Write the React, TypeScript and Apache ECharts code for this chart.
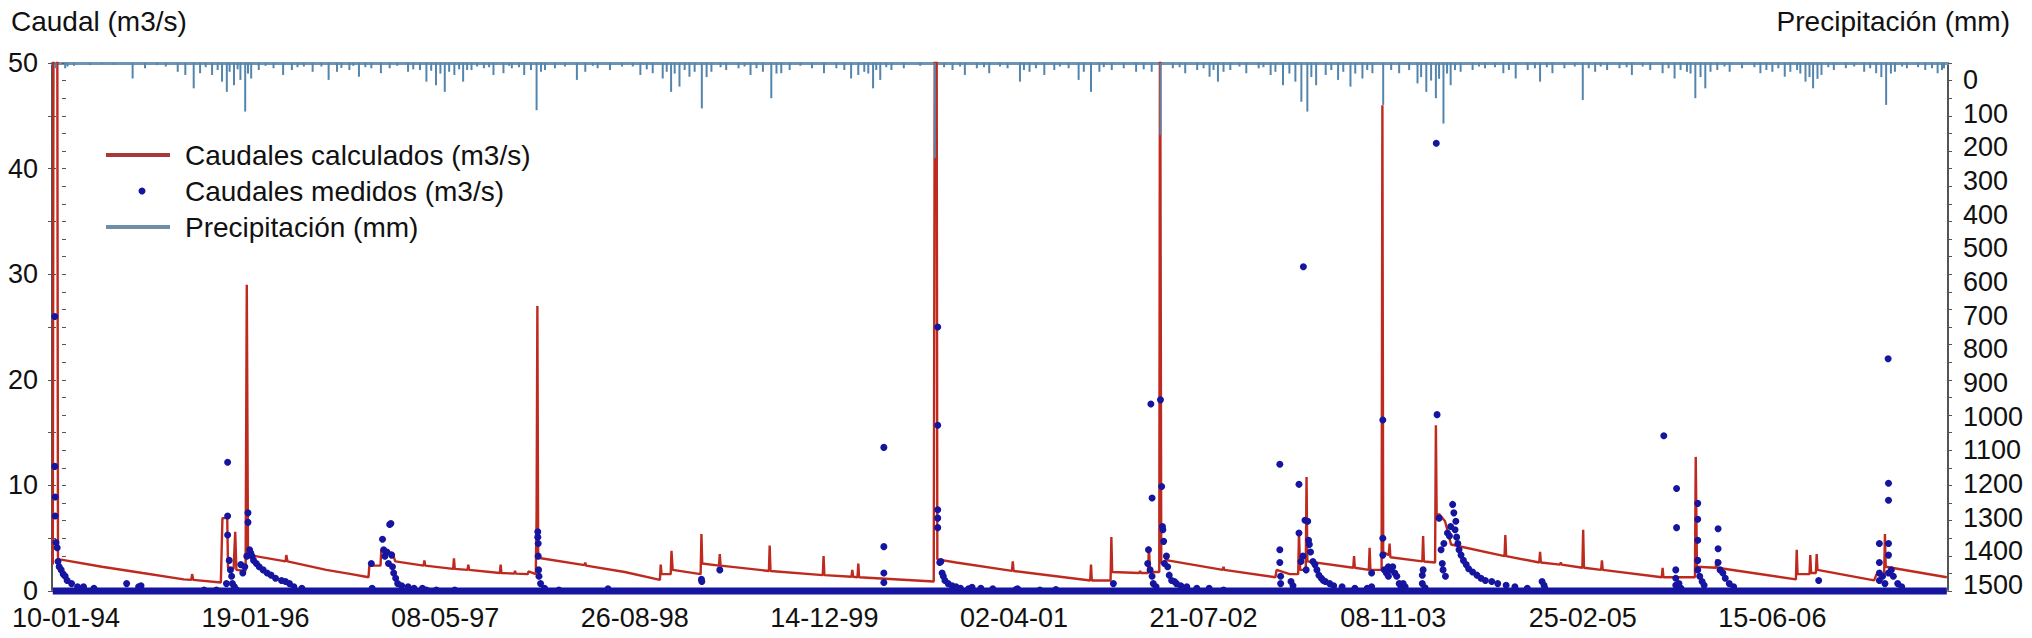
import React, { useEffect, useRef } from "react";
import * as echarts from "echarts";

const FONT = "'Liberation Sans', Arial, Helvetica, sans-serif";

// x axis: day index (category-like, evenly spaced labels every 475 days)
const xLabels = ["10-01-94", "19-01-96", "08-05-97", "26-08-98", "14-12-99", "02-04-01", "21-07-02", "08-11-03", "25-02-05", "15-06-06"];
const LABEL_STEP = 475;
const X_MIN = -35;
const X_MAX = 4715;

const leftTicks = [0, 10, 20, 30, 40, 50];
const rightTickLabels = [0, 100, 200, 300, 400, 500, 600, 700, 800, 900, 1000, 1100, 1200, 1300, 1400, 1500];

// Caudales calculados (m3/s): [day, value]
const calculatedFlow: [number, number][] = [
  [-33, 2.5], [-31, 60], [-22, 60], [-20, 3.1], [-16, 3.0], [90, 2.3], [192, 1.7], [295, 1.1], [314, 1.05], [316, 1.6], [319, 1.05], [388, 0.8],
  [392, 6.9], [404, 6.9], [406, 2.2], [420, 2.1], [424, 5.6], [427, 2.0], [450, 1.9], [453, 29], [456, 3.5],
  [460, 3.4], [550, 2.8], [552, 3.4], [555, 2.8], [652, 2.0], [715, 1.6], [758, 1.3],
  [760, 2.4], [788, 2.4], [790, 3.9], [818, 3.6], [825, 2.8], [896, 2.4], [898, 2.9], [900, 2.4], [970, 2.1], [972, 3.1], [974, 2.1],
  [1006, 2.0], [1008, 2.5], [1010, 2.0], [1087, 1.7], [1089, 2.5], [1091, 1.7], [1123, 1.65], [1125, 1.9], [1127, 1.65], [1157, 1.6], [1159, 1.85], [1177, 1.6],
  [1179, 7.0], [1181, 27], [1183, 3.3], [1190, 3.1], [1299, 2.45], [1301, 2.7], [1303, 2.4], [1400, 1.8], [1488, 1.05], [1490, 2.5], [1492, 1.6],
  [1515, 1.6], [1517, 3.8], [1520, 2.0], [1590, 1.6], [1592, 5.4], [1594, 2.6], [1636, 2.4], [1638, 3.5], [1640, 2.4],
  [1761, 1.9], [1763, 4.3], [1765, 1.9], [1896, 1.5], [1898, 3.3], [1900, 1.5], [1968, 1.35], [1970, 2.0], [1972, 1.35],
  [1983, 1.3], [1985, 2.6], [1987, 1.3], [2174, 0.9],
  [2177, 60], [2181, 60], [2183, 3.0], [2230, 2.7], [2370, 1.9], [2372, 2.8], [2374, 1.9], [2566, 1.0], [2568, 2.5], [2570, 1.0],
  [2617, 1.0], [2619, 5.1], [2621, 1.8], [2689, 1.7], [2691, 1.9], [2693, 1.7], [2711, 1.7], [2713, 4.2], [2716, 1.8], [2739, 1.8],
  [2741, 60], [2744, 2.6], [2755, 2.9], [2757, 3.4], [2760, 2.9], [2898, 2.0], [2900, 2.3], [2902, 2.0], [3030, 1.3],
  [3033, 2.0], [3066, 1.6], [3087, 1.6], [3089, 5.5], [3092, 2.0], [3106, 2.0], [3108, 10.8], [3110, 2.8],
  [3225, 2.2], [3227, 3.3], [3229, 2.2], [3264, 2.0], [3266, 4.1], [3268, 2.0], [3296, 2.0], [3298, 46], [3300, 3.7],
  [3314, 3.4], [3316, 4.5], [3318, 3.2], [3398, 2.8], [3400, 5.2], [3402, 2.8], [3430, 2.7], [3432, 15.7], [3434, 6.9],
  [3440, 7.3], [3455, 6.6], [3470, 4.4], [3604, 3.3], [3606, 5.3], [3608, 3.3], [3691, 2.7], [3693, 3.7], [3695, 2.7],
  [3743, 2.5], [3745, 2.7], [3747, 2.5], [3799, 2.2], [3801, 5.8], [3803, 2.2], [3846, 2.0], [3848, 2.9], [3850, 2.0],
  [3998, 1.3], [4000, 2.2], [4002, 1.3], [4081, 1.3], [4083, 12.7], [4086, 2.3], [4133, 2.2], [4135, 3.0], [4137, 2.2],
  [4334, 1.1], [4336, 3.9], [4338, 1.6], [4368, 1.6], [4370, 3.4], [4372, 1.7], [4384, 1.7], [4386, 3.5], [4388, 2.0],
  [4530, 1.0], [4536, 1.6], [4540, 1.5], [4555, 1.5], [4557, 5.4], [4559, 2.3], [4712, 1.3],
];

// Caudales medidos (m3/s), non-zero measurements: [day, value]
const measuredFlow: [number, number][] = [
  [-28, 26.0], [-28, 11.8], [-27, 8.9], [-27, 7.1], [-25, 4.6], [-22, 4.1], [-20, 2.8], [-17, 2.3], [-12, 2.0], [-7, 1.6], [-2, 1.4],
  [3, 1.0], [14, 0.7], [29, 0.4], [44, 0.4], [70, 0.25], [152, 0.7], [182, 0.4], [188, 0.5],
  [346, 0.1], [377, 0.1], [402, 0.7], [405, 12.2], [405, 7.1], [405, 5.3], [409, 2.9], [412, 2.0], [415, 1.4], [417, 0.7], [422, 0.4], [428, 0.1],
  [438, 2.5], [443, 1.7], [448, 2.3], [453, 3.3], [456, 7.4], [456, 6.5], [460, 3.9], [463, 3.6], [466, 3.3], [470, 2.9], [477, 2.6], [484, 2.3],
  [494, 2.0], [504, 1.7], [514, 1.5], [525, 1.2], [540, 1.0], [550, 0.9], [560, 0.7], [571, 0.4], [591, 0.25],
  [765, 2.6], [767, 0.25], [793, 4.9], [796, 3.9], [799, 3.3], [804, 3.7], [808, 2.6], [811, 6.3], [814, 6.4], [816, 3.4], [818, 2.3], [821, 1.7],
  [826, 1.2], [831, 0.7], [841, 0.5], [857, 0.4], [872, 0.25], [893, 0.25], [903, 0.1], [928, 0.1], [974, 0.1],
  [1182, 5.6], [1182, 5.1], [1183, 4.5], [1183, 3.3], [1184, 2.0], [1185, 1.4], [1189, 0.7], [1199, 0.25], [1235, 0.1], [1358, 0.2],
  [1592, 1.1], [1593, 0.9], [1638, 2.0],
  [2049, 13.6], [2049, 4.2], [2049, 1.7], [2049, 0.8],
  [2184, 25.0], [2184, 15.7], [2184, 7.7], [2184, 6.9], [2184, 6.0], [2189, 2.7], [2192, 2.8], [2195, 1.7], [2198, 1.4], [2202, 1.0], [2210, 0.7],
  [2220, 0.5], [2230, 0.4], [2241, 0.25], [2261, 0.2], [2270, 0.35], [2292, 0.25], [2322, 0.2], [2380, 0.15], [2384, 0.2], [2440, 0.1], [2480, 0.15],
  [2624, 0.7],
  [2710, 2.6], [2712, 3.9], [2716, 2.0], [2718, 17.7], [2721, 8.8], [2721, 1.4], [2724, 0.7], [2731, 0.4], [2742, 18.1], [2745, 9.9], [2747, 6.1],
  [2748, 5.8], [2750, 4.7], [2752, 2.6], [2757, 3.3], [2760, 2.3], [2764, 1.5], [2770, 1.0], [2777, 0.9], [2782, 0.7], [2793, 0.5], [2808, 0.4],
  [2833, 0.25], [2864, 0.25], [2900, 0.1],
  [3041, 12.0], [3041, 3.9], [3041, 2.7], [3043, 1.4], [3043, 0.7], [3069, 0.9], [3074, 0.5], [3089, 10.1], [3089, 5.5], [3094, 2.8], [3099, 3.3],
  [3100, 30.7], [3104, 6.7], [3107, 2.0], [3111, 6.6], [3113, 4.8], [3115, 4.4], [3118, 3.7], [3124, 2.8], [3129, 2.5], [3134, 2.0], [3139, 1.5],
  [3145, 1.2], [3150, 1.0], [3155, 0.9], [3166, 0.7], [3176, 0.5], [3197, 0.4], [3229, 0.25], [3260, 0.25], [3271, 1.7], [3271, 0.4],
  [3299, 16.2], [3299, 5.0], [3299, 3.4], [3303, 2.0], [3308, 1.7], [3313, 2.3], [3313, 1.4], [3319, 2.0], [3324, 2.3], [3329, 1.7], [3334, 1.4],
  [3340, 0.7], [3345, 0.25], [3350, 0.7], [3355, 0.4], [3398, 0.7], [3398, 1.5], [3400, 2.0], [3405, 0.3],
  [3433, 42.4], [3435, 16.7], [3440, 6.9], [3445, 3.9], [3448, 2.6], [3450, 2.0], [3452, 4.5], [3456, 1.4], [3461, 5.5], [3466, 5.2], [3469, 6.1],
  [3474, 8.2], [3477, 7.4], [3480, 5.8], [3482, 6.6], [3484, 5.1], [3487, 4.5], [3490, 3.9], [3495, 3.4], [3501, 2.9], [3508, 2.5], [3514, 2.1],
  [3524, 1.8], [3535, 1.5], [3545, 1.2], [3556, 1.0], [3572, 0.9], [3587, 0.7], [3608, 0.55], [3630, 0.4], [3661, 0.25], [3698, 0.9], [3703, 0.55], [3705, 0.25],
  [4003, 14.7], [4033, 2.0], [4033, 1.2], [4033, 0.55], [4035, 9.7], [4035, 6.0], [4041, 0.7], [4046, 0.25],
  [4088, 8.3], [4088, 6.8], [4088, 4.8], [4088, 2.9], [4088, 2.0], [4093, 1.4], [4099, 0.9], [4104, 0.55],
  [4139, 5.9], [4139, 4.0], [4139, 2.7], [4144, 2.0], [4151, 1.7], [4157, 1.2], [4167, 0.7], [4178, 0.4], [4391, 1.0],
  [4543, 4.5], [4543, 2.7], [4543, 1.7], [4543, 1.0], [4551, 1.4], [4557, 0.7], [4565, 22.0], [4566, 10.2], [4566, 8.6], [4566, 4.5], [4566, 3.4],
  [4566, 1.7], [4573, 2.0], [4578, 1.4], [4589, 0.7], [4599, 0.4],
];

// Periods in which measured flow was 0 m3/s (dense dots along the bottom): [startDay, endDay]
const zeroFlowPeriods: [number, number][] = [[-33, 4712]];

// Precipitación (mm): [day, mm]
const precipitation: [number, number][] = [
  [-26, 15], [-2, 15], [4, 10], [20, 8], [60, 6], [90, 3], [120, 5], [167, 44], [198, 15], [228, 6], [250, 10], [280, 25], [299, 34], [320, 72], [336, 29],
  [350, 12], [366, 34], [380, 20], [391, 53], [403, 82], [410, 25], [421, 63], [430, 18], [437, 48], [449, 138], [456, 30], [464, 44], [483, 20],
  [500, 8], [520, 15], [544, 34], [566, 20], [580, 12], [596, 10], [618, 25], [640, 10],
  [658, 48], [679, 25], [690, 14], [710, 20], [720, 8], [734, 39], [750, 12], [765, 15], [789, 29], [811, 15], [830, 8], [857, 25], [870, 18],
  [887, 20], [903, 53], [915, 22], [927, 63], [938, 30], [949, 82], [960, 25], [973, 34], [985, 18],
  [995, 53], [1005, 20], [1016, 20], [1030, 10], [1047, 15], [1060, 12], [1071, 34], [1096, 29], [1110, 8], [1117, 15], [1135, 12], [1148, 34],
  [1165, 20], [1179, 134], [1190, 25], [1200, 20], [1225, 15], [1250, 10], [1280, 48], [1301, 25], [1320, 8],
  [1332, 15], [1363, 20], [1393, 10], [1420, 10], [1439, 34], [1455, 18], [1470, 29], [1495, 44], [1505, 25], [1516, 82], [1525, 30], [1537, 67],
  [1550, 20], [1562, 39], [1575, 25], [1593, 129], [1605, 40], [1617, 25], [1640, 12],
  [1654, 20], [1685, 15], [1700, 10], [1715, 34], [1730, 15], [1746, 25], [1767, 100], [1780, 30], [1792, 29], [1813, 20], [1840, 8], [1869, 15],
  [1899, 29], [1930, 15], [1950, 20], [1967, 44], [1985, 34], [2000, 25], [2010, 30],
  [2022, 72], [2030, 20], [2040, 48], [2055, 12], [2068, 20], [2099, 15], [2140, 8], [2177, 270], [2200, 12], [2221, 20], [2240, 10], [2252, 34],
  [2282, 15], [2300, 12], [2313, 29], [2340, 10], [2359, 15], [2390, 53], [2400, 20], [2414, 25], [2430, 15],
  [2451, 34], [2476, 20], [2490, 10], [2512, 15], [2537, 48], [2550, 25], [2568, 82], [2589, 25], [2600, 12], [2620, 20], [2650, 15], [2681, 25],
  [2700, 18], [2720, 25], [2742, 205], [2773, 15], [2790, 12], [2804, 29],
  [2834, 20], [2850, 15], [2865, 39], [2875, 20], [2886, 53], [2900, 25], [2917, 20], [2940, 10], [2957, 29], [2988, 15], [3000, 12], [3018, 34],
  [3030, 25], [3049, 63], [3065, 30], [3080, 53], [3095, 110], [3110, 138], [3120, 40], [3132, 63],
  [3156, 34], [3170, 20], [3187, 48], [3200, 25], [3218, 67], [3230, 30], [3248, 44], [3260, 20], [3273, 29], [3300, 119], [3320, 20], [3340, 29],
  [3365, 20], [3386, 58], [3395, 40], [3408, 82], [3420, 50], [3432, 100], [3440, 45], [3451, 172],
  [3460, 30], [3469, 63], [3480, 20], [3494, 25], [3524, 20], [3540, 10], [3555, 15], [3580, 12], [3601, 29], [3615, 20], [3632, 44], [3662, 20],
  [3680, 15], [3693, 53], [3710, 12], [3724, 29], [3754, 15], [3780, 10], [3800, 105], [3815, 15], [3831, 25], [3845, 10],
  [3861, 20], [3892, 15], [3910, 12], [3923, 34], [3950, 10], [3969, 20], [4000, 29], [4015, 15], [4030, 44], [4045, 20], [4061, 25], [4070, 30],
  [4082, 100], [4095, 40], [4107, 72], [4120, 25], [4137, 20], [4155, 10], [4168, 25], [4199, 15],
  [4230, 12], [4245, 29], [4260, 20], [4275, 25], [4290, 15], [4306, 39], [4320, 25], [4337, 20], [4345, 30], [4358, 53], [4368, 40], [4377, 72],
  [4388, 45], [4398, 34], [4415, 12], [4429, 20], [4459, 15], [4480, 10], [4505, 25], [4520, 15], [4535, 29], [4548, 40], [4560, 119],
  [4572, 30], [4582, 25], [4600, 10], [4612, 15], [4640, 12], [4658, 20], [4675, 15], [4689, 29], [4700, 20], [4705, 15],
];

const C_RED = "#bf2a1f";
const C_BLUE = "#1515a0";
const C_PRECIP = "#5485ad";
const C_AXIS = "#555555";
const C_TEXT = "#111111";

export default function App() {
  const ref = useRef<HTMLDivElement>(null);

  useEffect(() => {
    if (!ref.current) return;
    const chart = echarts.init(ref.current, null, { renderer: "svg" });

    const zeroBand: any[] = [];
    zeroFlowPeriods.forEach(([a, b]) => {
      zeroBand.push([a, 0], [b, 0], [NaN, NaN]);
    });

    const labelFont = { fontSize: 27, fontFamily: FONT, color: C_TEXT, lineHeight: 26 };

    const option: any = {
      animation: false,
      backgroundColor: "#ffffff",
      grid: { left: 52, right: 84, top: 63, bottom: 47 },
      xAxis: [
        {
          type: "value",
          min: X_MIN,
          max: X_MAX,
          position: "bottom",
          axisLine: { show: true, onZero: false, lineStyle: { color: "#8a8a8a", width: 2 } },
          axisTick: { show: false },
          splitLine: { show: false },
          axisLabel: {
            ...labelFont,
            margin: 14,
            customValues: xLabels.map((_, i) => i * LABEL_STEP),
            formatter: (v: number) => xLabels[Math.round(v / LABEL_STEP)] ?? "",
          },
        },
        {
          type: "value",
          min: X_MIN,
          max: X_MAX,
          position: "top",
          axisLine: { show: true, onZero: false, lineStyle: { color: "#6f93b3", width: 3 } },
          axisTick: { show: false },
          axisLabel: { show: false },
          splitLine: { show: false },
        },
      ],
      yAxis: [
        {
          type: "value",
          min: 0,
          max: 50,
          interval: 10,
          position: "left",
          axisLine: { show: true, onZero: false, lineStyle: { color: C_AXIS, width: 2 } },
          axisTick: { show: true, length: 4, lineStyle: { color: C_AXIS } },
          minorTick: { show: true, splitNumber: 2, length: 4, lineStyle: { color: C_AXIS } },
          splitLine: { show: false },
          axisLabel: { ...labelFont, margin: 14, customValues: leftTicks, formatter: (v: number) => String(v) },
        },
        {
          type: "value",
          min: 0,
          max: 1500,
          interval: 50,
          inverse: true,
          position: "right",
          axisLine: { show: true, onZero: false, lineStyle: { color: C_AXIS, width: 2 } },
          axisTick: { show: true, length: 4, lineStyle: { color: C_AXIS } },
          axisLabel: { show: false },
          splitLine: { show: false },
        },
        {
          type: "value",
          min: -50,
          max: 1518,
          inverse: true,
          position: "right",
          axisLine: { show: false },
          axisTick: { show: false },
          splitLine: { show: false },
          axisLabel: { ...labelFont, margin: 15, customValues: rightTickLabels, formatter: (v: number) => String(v) },
        },
        {
          type: "value",
          min: 0,
          max: 1500,
          interval: 50,
          inverse: true,
          position: "right",
          axisLine: { show: false },
          axisTick: { show: true, inside: true, length: 4, lineStyle: { color: C_AXIS } },
          axisLabel: { show: false },
          splitLine: { show: false },
        },
        {
          type: "value",
          min: 0,
          max: 50,
          interval: 5,
          position: "left",
          axisLine: { show: false },
          axisTick: { show: true, inside: true, length: 4, lineStyle: { color: C_AXIS } },
          axisLabel: { show: false },
          splitLine: { show: false },
        },
      ],
      series: [
        {
          name: "Caudales calculados (m3/s)",
          type: "line",
          xAxisIndex: 0,
          yAxisIndex: 0,
          data: calculatedFlow,
          symbol: "none",
          lineStyle: { color: C_RED, width: 2.4 },
          z: 2,
        },
        {
          name: "Caudales medidos (m3/s) = 0",
          type: "line",
          xAxisIndex: 0,
          yAxisIndex: 0,
          data: zeroBand,
          symbol: "none",
          connectNulls: false,
          clip: false,
          lineStyle: { color: C_BLUE, width: 7 },
          z: 3,
        },
        {
          name: "Caudales medidos (m3/s)",
          type: "scatter",
          xAxisIndex: 0,
          yAxisIndex: 0,
          data: measuredFlow,
          symbol: "circle",
          symbolSize: 7,
          itemStyle: { color: C_BLUE, opacity: 1 },
          z: 4,
        },
        {
          name: "Precipitación (mm)",
          type: "bar",
          xAxisIndex: 0,
          yAxisIndex: 1,
          data: precipitation,
          barWidth: 2,
          itemStyle: { color: C_PRECIP },
          z: 5,
        },
      ],
      graphic: [
        { type: "text", left: 11, top: 7, style: { text: "Caudal (m3/s)", fontSize: 28, fontFamily: FONT, fill: C_TEXT } },
        { type: "text", right: 22, top: 7, style: { text: "Precipitación (mm)", fontSize: 28, fontFamily: FONT, fill: C_TEXT } },
        { type: "line", shape: { x1: 106, y1: 155, x2: 170, y2: 155 }, style: { stroke: "#a8383a", lineWidth: 4 }, z: 10 },
        { type: "text", x: 185, y: 155, style: { text: "Caudales calculados (m3/s)", fontSize: 28, fontFamily: FONT, fill: C_TEXT, verticalAlign: "middle" }, z: 10 },
        { type: "circle", shape: { cx: 142, cy: 191, r: 3.5 }, style: { fill: C_BLUE }, z: 10 },
        { type: "text", x: 185, y: 191, style: { text: "Caudales medidos (m3/s)", fontSize: 28, fontFamily: FONT, fill: C_TEXT, verticalAlign: "middle" }, z: 10 },
        { type: "line", shape: { x1: 106, y1: 227, x2: 170, y2: 227 }, style: { stroke: "#6f8fa9", lineWidth: 4 }, z: 10 },
        { type: "text", x: 185, y: 227, style: { text: "Precipitación (mm)", fontSize: 28, fontFamily: FONT, fill: C_TEXT, verticalAlign: "middle" }, z: 10 },
      ],
    };

    chart.setOption(option);
    return () => chart.dispose();
  }, []);

  return (
    <div
      ref={ref}
      style={{ position: "fixed", left: 0, top: 0, width: 2032, height: 638, background: "#ffffff" }}
    />
  );
}
